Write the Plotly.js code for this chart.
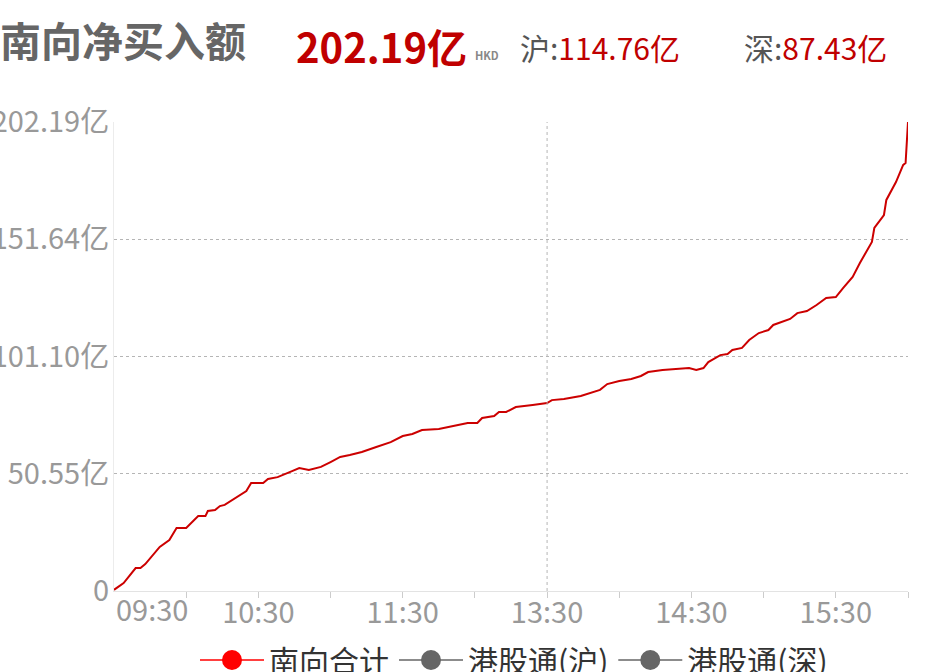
<!DOCTYPE html>
<html>
<head>
<meta charset="utf-8">
<script src="https://cdn.plot.ly/plotly-3.0.1.min.js"></script>
<style>
  html, body { margin: 0; padding: 0; background: #fff; }
  #chart { width: 928px; height: 672px; }
</style>
</head>
<body>
<div id="chart"></div>
<script>
// 南向资金 cumulative net buy (unit: 亿 HKD)
const times = ['09:30','09:34','09:39','09:41','09:43','09:45','09:49','09:53','09:56',
  '10:00','10:05','10:08','10:09','10:12','10:14','10:16','10:22','10:25','10:27','10:32','10:34','10:38','10:44','10:47','10:51','10:56',
  '11:00','11:04','11:08','11:13','11:19','11:25','11:30','11:34','11:38','11:45','11:51','11:57',
  '13:01','13:03','13:08','13:10','13:13','13:17','13:24','13:30','13:32','13:37','13:44','13:52','13:55',
  '14:00','14:05','14:09','14:12','14:18','14:29','14:32','14:35','14:37','14:42','14:45','14:47','14:51','14:54','14:58',
  '15:02','15:04','15:11','15:14','15:18','15:22','15:26','15:30','15:33','15:37','15:40','15:45','15:46','15:50','15:51','15:55','15:58','15:59',
  '16:00'];
const southTotal = [0.5,3.4,9.9,9.9,11.6,14.2,19.0,22.0,27.2,
  27.2,32.3,32.3,34.5,34.9,36.6,37.1,41.0,43.1,46.6,46.6,48.3,49.1,51.7,53.0,52.2,53.5,
  55.6,57.8,58.6,59.9,62.1,64.2,66.8,67.7,69.4,69.8,71.1,72.4,
  72.4,74.6,75.4,77.2,77.2,79.3,80.2,81.0,82.3,82.8,84.1,86.7,89.2,
  90.5,91.4,92.7,94.4,95.3,96.1,95.3,96.1,98.7,101.7,102.2,103.9,104.8,108.2,111.2,
  112.5,114.7,117.3,119.8,120.7,123.3,126.3,126.7,130.6,135.4,141.4,150.5,156.5,162.1,168.6,176.3,183.7,184.5,
  202.19];

const seriesNames = ['南向合计', '港股通(沪)', '港股通(深)'];
const headerTotal = '202.19亿';
const headerSh = '114.76亿';
const headerSz = '87.43亿';

const yTickVals = [0, 50.55, 101.10, 151.64, 202.19];
const yTickLabels = ['0', '50.55亿', '101.10亿', '151.64亿', '202.19亿'];
const xTickTimes = ['10:00','10:30','11:00','11:30','13:00','13:30','14:00','14:30','15:00','15:30','16:00'];
const xTickLabels = ['', '10:30', '', '11:30', '', '13:30', '', '14:30', '', '15:30', ''];

// trading minutes since open, lunch break removed
function toIdx(t) {
    const [h, m] = t.split(':').map(Number);
    let v = h * 60 + m - 570;
    if (v > 150) v -= 60;
    return v;
}

// page pixel -> paper coords (plot area 114..908 x 122..591)
const px = x => (x - 114) / 794;
const py = y => (591 - y) / 469;

const font = '"Noto Sans CJK SC", "Noto Sans", sans-serif';
const red = '#cc0000';

const legendTrace = (name, color) => ({
    x: [null], y: [null], name: name, mode: 'lines+markers', type: 'scatter',
    line: { color: color, width: 1.5 },
    marker: { color: color, size: 16, line: { color: color, width: 4 } }
});

const traces = [
    {
        x: times.map(toIdx),
        y: southTotal,
        mode: 'lines',
        type: 'scatter',
        line: { color: red, width: 2 },
        showlegend: false,
        hoverinfo: 'skip'
    },
    legendTrace(seriesNames[0], '#ff0000'),
    legendTrace(seriesNames[1], '#666666'),
    legendTrace(seriesNames[2], '#666666')
];

const layout = {
    width: 928,
    height: 672,
    margin: { l: 114, r: 20, t: 122, b: 81, autoexpand: false },
    paper_bgcolor: '#ffffff',
    plot_bgcolor: '#ffffff',
    font: { family: font, color: '#999999' },
    xaxis: {
        range: [0, 330],
        tickvals: xTickTimes.map(toIdx),
        ticktext: xTickLabels,
        ticks: 'outside',
        ticklen: 6,
        tickcolor: '#cccccc',
        tickfont: { size: 29, color: '#999999' },
        ticklabelstandoff: -10,
        showgrid: false,
        zeroline: false,
        showline: true,
        linecolor: '#e3e3e3',
        linewidth: 1,
        fixedrange: true
    },
    yaxis: {
        range: [0, 202.19],
        tickvals: yTickVals,
        ticktext: yTickLabels,
        tickfont: { size: 29, color: '#999999' },
        ticklabelstandoff: -2,
        showgrid: true,
        gridcolor: '#b5b5b5',
        griddash: 'dot',
        gridwidth: 1,
        zeroline: false,
        showline: true,
        linecolor: '#ececec',
        linewidth: 1,
        fixedrange: true
    },
    shapes: [
        {
            type: 'line', xref: 'x', yref: 'paper',
            x0: toIdx('13:30'), x1: toIdx('13:30'), y0: 0, y1: 1,
            line: { color: '#b5b5b5', width: 1, dash: 'dot' }
        }
    ],
    legend: {
        orientation: 'h',
        x: px(195), xanchor: 'left',
        y: py(634), yanchor: 'top',
        font: { size: 30, color: '#333333' },
        itemwidth: 64,
        bgcolor: 'rgba(0,0,0,0)'
    },
    annotations: [
        {
            text: '09:30', xref: 'x', yref: 'paper', x: 0, y: py(585),
            xanchor: 'left', yanchor: 'top', showarrow: false,
            font: { size: 29, color: '#999999' }
        },
        {
            text: '南向净买入额', xref: 'paper', yref: 'paper', x: px(-2), y: py(39),
            xanchor: 'left', yanchor: 'middle', showarrow: false,
            font: { size: 41, color: '#666666', weight: 'bold' }
        },
        {
            text: headerTotal, xref: 'paper', yref: 'paper', x: px(294), y: py(46),
            xanchor: 'left', yanchor: 'middle', showarrow: false,
            font: { size: 40, color: '#c00000', weight: 'bold' }
        },
        {
            text: 'HKD', xref: 'paper', yref: 'paper', x: px(473), y: py(55),
            xanchor: 'left', yanchor: 'middle', showarrow: false,
            font: { size: 11, color: '#888888', weight: 'bold' }
        },
        {
            text: '沪:<span style="color:#c00000">' + headerSh + '</span>',
            xref: 'paper', yref: 'paper', x: px(518), y: py(47),
            xanchor: 'left', yanchor: 'middle', showarrow: false,
            font: { size: 30, color: '#555555' }
        },
        {
            text: '深:<span style="color:#c00000">' + headerSz + '</span>',
            xref: 'paper', yref: 'paper', x: px(742), y: py(47),
            xanchor: 'left', yanchor: 'middle', showarrow: false,
            font: { size: 30, color: '#555555' }
        }
    ]
};

Plotly.newPlot('chart', traces, layout, { displayModeBar: false, staticPlot: true });
</script>
</body>
</html>
